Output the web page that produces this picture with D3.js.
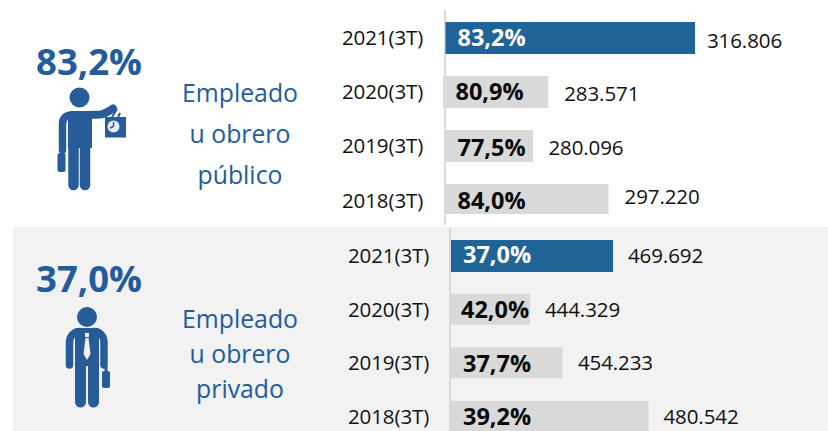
<!DOCTYPE html>
<html><head><meta charset="utf-8">
<script src="https://cdn.jsdelivr.net/npm/d3@7"></script>
<style>html,body{margin:0;padding:0;background:#fff}svg{display:block}text{font-family:"Open Sans",sans-serif}</style>
</head><body><svg id="c" width="828" height="431"></svg>
<script>
const periods = ["2021(3T)","2020(3T)","2019(3T)","2018(3T)"];
const publicCounts = [316806,283571,280096,297220];
const publicShares = ["83,2%","80,9%","77,5%","84,0%"];
const privateCounts = [469692,444329,454233,480542];
const privateShares = ["37,0%","42,0%","37,7%","39,2%"];
const publicLines = ["Empleado","u obrero","público"];
const privateLines = ["Empleado","u obrero","privado"];
const publicHeadline = "83,2%";
const privateHeadline = "37,0%";

const fmt = v => d3.format(",")(v).replace(/,/g,".");
const BLUE="#1f6397", GREY="#d9d9d9", HEAD="#225c9c", INK="#111", ICON="#285c98";
const svg=d3.select("#c");
svg.append("rect").attr("x",13).attr("y",227).attr("width",815).attr("height",204).attr("fill","#f2f2f2");

function panel(o){
  const x=d3.scaleLinear().domain(o.domain).range(o.range);
  const y=d3.scalePoint().domain(periods).range(o.yRange);
  const g=svg.append("g");
  g.append("line").attr("x1",o.axisX).attr("x2",o.axisX).attr("y1",o.axisY[0]).attr("y2",o.axisY[1]).attr("stroke","#d9d9d9").attr("stroke-width",2);
  periods.forEach((p,i)=>{
    const cy=y(p), v=o.counts[i], x0=x(o.domain[0])+o.barStart[i];
    g.append("rect").attr("x",x0).attr("y",cy-16).attr("width",x(v)-x0).attr("height",o.barH[i])
      .attr("fill",i===0?BLUE:GREY);
    g.append("text").attr("x",o.catX).attr("y",cy+o.catDy[i]).attr("font-size",20.5).attr("fill",INK).attr("letter-spacing",-0.1).text(p);
    g.append("text").attr("x",o.shareX[i]).attr("y",cy+o.shareDy[i]).attr("font-size",23.5).attr("font-weight",700).attr("fill",i===0?"#fff":"#0a0a0a").text(o.shares[i]);
    g.append("text").attr("x",x(v)+o.gap[i]).attr("y",cy+o.valDy[i]).attr("font-size",20.5).attr("fill",INK).attr("letter-spacing",-0.1).text(fmt(v));
  });
  o.lines.forEach((t,i)=>svg.append("text").attr("x",240).attr("y",o.lineY[i]).attr("text-anchor","middle").attr("font-size",24.8).attr("fill",HEAD).text(t));
  svg.append("text").attr("x",89).attr("y",o.headY).attr("text-anchor","middle").attr("font-size",36.5).attr("font-weight",700).attr("fill",HEAD).text(o.headline);
}
panel({counts:publicCounts,shares:publicShares,lines:publicLines,headline:publicHeadline,
  domain:[260300,316806],range:[445.5,695],yRange:[38,200],axisX:445,axisY:[10,225],catX:342,
  barStart:[0,-2.5,0,0],barH:[32,32,32,30],
  catDy:[7,7,7,8],shareX:[457.5,455.5,457.5,457.5],shareDy:[8,8,10,9],gap:[12,16,15.5,16],valDy:[10,9,9,4],
  lineY:[102,143,184],headY:75});
panel({counts:privateCounts,shares:privateShares,lines:privateLines,headline:privateHeadline,
  domain:[420181,469692],range:[451,613],yRange:[256,417],axisX:450,axisY:[228,431],catX:348,
  barStart:[0,-1,-1,0],barH:[32,31,31,30],
  catDy:[7,7,7,7],shareX:[463,461,463,463],shareDy:[7,8,9,8],gap:[15,15,15.5,15],valDy:[7,7,7,7],
  lineY:[328,363,398],headY:292});

// Worker icon
const w=svg.append("g");
const sw=(d,wd)=>w.append("path").attr("d",d).attr("fill","none").attr("stroke",ICON).attr("stroke-width",wd).attr("stroke-linecap","round").attr("stroke-linejoin","round");
w.append("circle").attr("cx",79.5).attr("cy",97.5).attr("r",10).attr("fill",ICON);
w.append("path").attr("fill",ICON).attr("d","M70,111 H92 V148 H68 V118 Z");
sw("M73.5,146 V185",10.5); sw("M85,146 V185",10.5);
sw("M88,115 L100,114.5 C105,114 109,111 113,108.5",8);
sw("M62.5,150 V124 C62.5,118 66,115 72,115",7.5);
w.append("rect").attr("x",105).attr("y",117).attr("width",21).attr("height",20.5).attr("fill",ICON);
w.append("path").attr("d","M112,117 L117,109 M118,117 L120,113").attr("stroke",ICON).attr("stroke-width",2);
w.append("rect").attr("x",57.5).attr("y",153).attr("width",8).attr("height",19).attr("rx",2).attr("fill",ICON);
w.append("circle").attr("cx",113.5).attr("cy",126.5).attr("r",6).attr("fill","#e8eef6");
w.append("path").attr("d","M113.5,126.5 L110,128 M113.5,126.5 V122").attr("stroke",ICON).attr("stroke-width",1.5);

// Office worker icon
const m=svg.append("g");
const sm=(d,wd)=>m.append("path").attr("d",d).attr("fill","none").attr("stroke",ICON).attr("stroke-width",wd).attr("stroke-linecap","round").attr("stroke-linejoin","round");
m.append("circle").attr("cx",87).attr("cy",317).attr("r",10).attr("fill",ICON);
m.append("path").attr("fill",ICON).attr("d","M76,328 H98 V366 H75 V332 Z");
m.append("rect").attr("x",75).attr("y",335).attr("width",24).attr("height",30).attr("fill",ICON);
sm("M80.5,362 V402",11); sm("M93.5,362 V402",11);
sm("M69.5,365 V343 C69.5,336 74,331.5 80,331.5",7.5);
sm("M104,365 V343 C104,336 100,331.5 94,331.5",7.5);
m.append("rect").attr("x",102).attr("y",371).attr("width",8).attr("height",17).attr("rx",2).attr("fill",ICON);
m.append("rect").attr("x",104.5).attr("y",367).attr("width",3).attr("height",5).attr("fill",ICON);
m.append("path").attr("fill","#f2f2f2").attr("d","M85,333 H89 V337 H85 Z M85.5,338 H88.5 L90.5,354 L87,360 L83.5,354 Z");
</script></body></html>
